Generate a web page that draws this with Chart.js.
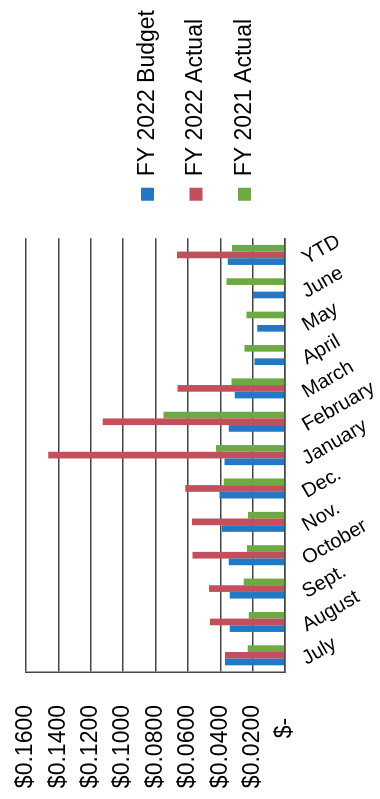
<!DOCTYPE html>
<html>
<head>
<meta charset="utf-8">
<script src="https://cdn.jsdelivr.net/npm/chart.js@4.4.0/dist/chart.umd.min.js"></script>
<style>
  html, body { margin: 0; padding: 0; overflow: hidden; background: #fff; }
  /* chart is laid out landscape, then turned a quarter turn to stand upright */
  #wrap {
    position: absolute; left: 0; top: 0;
    width: 799px; height: 380px;
    transform-origin: 0 0;
    transform: translateY(799px) rotate(-90deg);
  }
</style>
</head>
<body>
<div id="wrap"><canvas id="chart_plot" width="799" height="380"></canvas></div>
<script>
const months = ['July', 'August', 'Sept.', 'October', 'Nov.', 'Dec.', 'January',
                'February', 'March', 'April', 'May', 'June', 'YTD'];
const budget2022 = [0.0370, 0.0342, 0.0342, 0.0348, 0.0389, 0.0404, 0.0373,
                    0.0348, 0.0310, 0.0189, 0.0172, 0.0197, 0.0354];
const actual2022 = [0.0370, 0.0464, 0.0470, 0.0572, 0.0575, 0.0616, 0.1463,
                    0.1126, 0.0664, null, null, null, 0.0667];
const actual2021 = [0.0230, 0.0224, 0.0255, 0.0234, 0.0228, 0.0379, 0.0426,
                    0.0750, 0.0331, 0.0250, 0.0238, 0.0362, 0.0327];
const valueTicks = [0, 0.02, 0.04, 0.06, 0.08, 0.10, 0.12, 0.14, 0.16];

const font = '"Liberation Sans", Arial, sans-serif';
const lineColor = '#444444';

// month names hang down to the right of each tick
const monthLabels = {
  id: 'monthLabels',
  afterDraw(chart) {
    const ctx = chart.ctx;
    const x = chart.scales.x;
    ctx.save();
    ctx.font = '20px ' + font;
    ctx.fillStyle = '#000';
    ctx.textAlign = 'left';
    ctx.textBaseline = 'middle';
    months.forEach(function(m, i) {
      ctx.save();
      ctx.translate(x.getPixelForTick(i) - 5, x.top + 19);
      ctx.rotate(60 * Math.PI / 180);
      ctx.fillText(m, 0, 0);
      ctx.restore();
    });
    ctx.restore();
  }
};

new Chart(document.getElementById('chart_plot'), {
  type: 'bar',
  data: {
    labels: months,
    datasets: [{
      label: 'FY 2022 Budget',
      data: budget2022,
      backgroundColor: '#2378C3',
      borderWidth: 0
    }, {
      label: 'FY 2022 Actual',
      data: actual2022,
      backgroundColor: '#C24F5C',
      borderWidth: 0
    }, {
      label: 'FY 2021 Actual',
      data: actual2021,
      backgroundColor: '#6DAA45',
      borderWidth: 0
    }]
  },
  options: {
    responsive: false,
    animation: false,
    devicePixelRatio: 1,
    categoryPercentage: 0.6,
    barPercentage: 1.0,
    layout: { padding: { top: 26, bottom: 14, left: 0, right: 0 } },
    plugins: {
      tooltip: { enabled: false },
      legend: {
        position: 'right',
        maxWidth: 300,
        labels: {
          boxWidth: 13,
          boxHeight: 13,
          padding: 25.5,
          color: '#000',
          font: { size: 23, family: font }
        }
      }
    },
    scales: {
      x: {
        grid: { display: false },
        border: { display: true, color: lineColor, width: 1.5 },
        ticks: { display: false },
        afterFit: function(scale) { scale.height = 81; }
      },
      y: {
        min: 0,
        max: 0.16,
        afterBuildTicks: function(scale) {
          scale.ticks = valueTicks.map(function(v) { return { value: v }; });
        },
        grid: { color: lineColor, lineWidth: 1.5, drawTicks: false },
        border: { display: true, color: lineColor, width: 1.5 },
        ticks: {
          autoSkip: false,
          padding: 33,
          color: '#000',
          font: { size: 23, family: font },
          callback: function(v) { return v === 0 ? '$-  ' : '$' + v.toFixed(4); }
        },
        afterFit: function(scale) {
          scale.width = 127;
          // the wide label gap should not push the plot down
          scale.paddingTop = 0;
          scale.paddingBottom = 0;
        }
      },
      // keeps a little room between the plot and the legend
      gap: {
        type: 'linear',
        position: 'right',
        display: true,
        grid: { display: false },
        border: { display: false },
        ticks: { display: false },
        afterFit: function(scale) { scale.width = 12; }
      }
    }
  },
  plugins: [monthLabels]
});
</script>
</body>
</html>
